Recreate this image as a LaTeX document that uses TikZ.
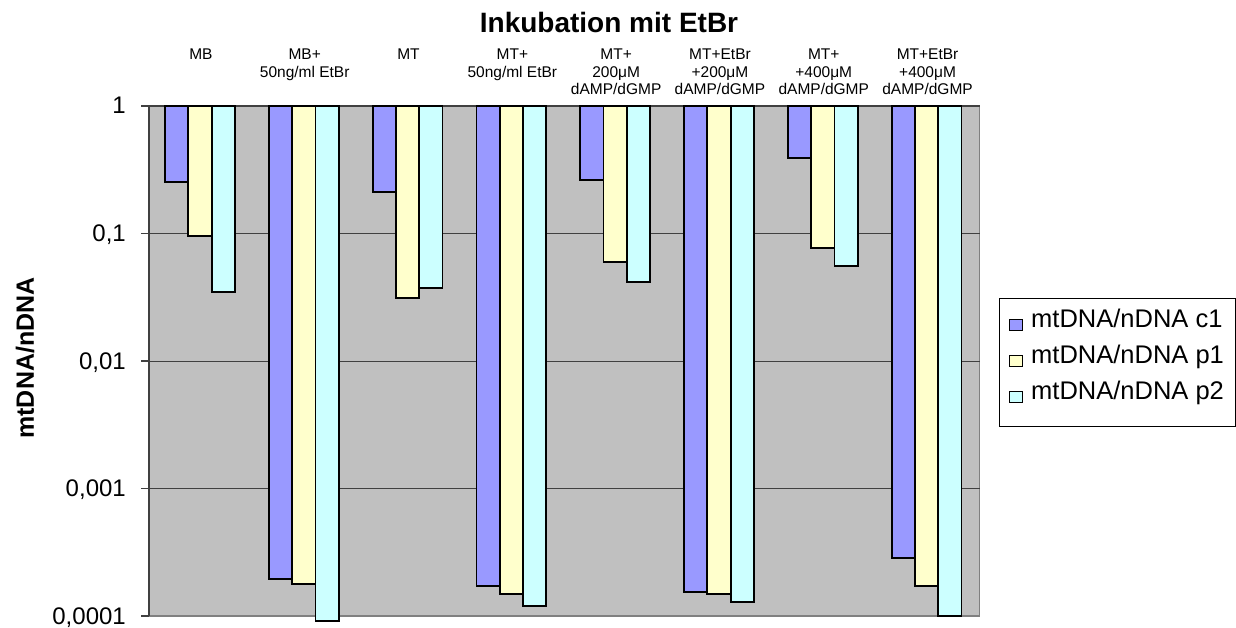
\documentclass[tikz,border=0pt]{standalone}
\usepackage{fontspec}
\setmainfont{Liberation Sans}
\usetikzlibrary{positioning}
\definecolor{plotgray}{HTML}{C0C0C0}
\definecolor{framegray}{HTML}{808080}
\definecolor{axisgray}{HTML}{404040}
\definecolor{cone}{HTML}{9999FF}
\definecolor{pone}{HTML}{FFFFCC}
\definecolor{ptwo}{HTML}{CCFFFF}
\tikzset{barbox/.style={draw=black,line width=1.8pt},
    gridline/.style={draw=axisgray,line width=1pt},
    axisline/.style={draw=axisgray,line width=1.8pt},
    catlabel/.style={font=\fontsize{15.5}{17.5}\selectfont,align=center,anchor=north,inner sep=0},
    ticklabel/.style={font=\fontsize{24}{24}\selectfont,anchor=base east,inner sep=0},
    legendkey/.style={draw=black,line width=1.5pt,minimum width=13pt,minimum height=11pt,inner sep=0},
    legendtext/.style={font=\fontsize{25.5}{25.5}\selectfont,anchor=base west,inner sep=0}
}
\newcommand{\barcluster}[4]
{
% args: (category index, bottom of c1, bottom of p1, bottom of p2)
    \pgfmathsetmacro\clusterleft{149+#1*103.81+16}

    \draw [barbox,fill=cone] (\clusterleft,106) rectangle (\clusterleft+23.3,#2);
    \draw [barbox,fill=pone] (\clusterleft+23.3,106) rectangle (\clusterleft+46.6,#3);
    \draw [barbox,fill=ptwo] (\clusterleft+46.6,106) rectangle (\clusterleft+69.9,#4);
}

\begin{document}
\begin{tikzpicture}[x=1pt,y=-1pt]

\useasboundingbox (0,0) rectangle (1236,628);

%% plot area
\fill [plotgray] (149,106) rectangle (979.5,616);
\draw [framegray,line width=1.8pt] (979.5,106) -- (979.5,616) -- (149,616);

\foreach \k in {1,2,3}
    \draw [gridline] (149,106+\k*127.5) -- (979.5,106+\k*127.5);

% value axis
\draw [axisline] (149,106) -- (149,616);
\draw [axisline] (149,106) -- (979.5,106);
\foreach \k in {0,...,4}
    \draw [axisline] (141,106+\k*127.5) -- (149,106+\k*127.5);

\foreach \k/\lbl in {0/1,1/{0,1},2/{0,01},3/{0,001},4/{0,0001}}
    \node (tick\k) [ticklabel] at (126,114+\k*127.5) {\lbl};

%% bars hanging from 1
\barcluster{0}{182}{236}{292}
\barcluster{1}{579}{583.7}{620.7}
\barcluster{2}{192}{297.7}{287.7}
\barcluster{3}{586}{593.7}{606}
\barcluster{4}{180}{262}{282}
\barcluster{5}{592}{593.7}{602}
\barcluster{6}{157.7}{247.7}{266}
\barcluster{7}{558}{585.7}{616.3}

%% category labels
\foreach \i/\txt in {0/MB,1/{MB+\\50ng/ml EtBr},2/MT,3/{MT+\\50ng/ml EtBr},
    4/{MT+\\200μM\\dAMP/dGMP},5/{MT+EtBr\\+200μM\\dAMP/dGMP},
    6/{MT+\\+400μM\\dAMP/dGMP},7/{MT+EtBr\\+400μM\\dAMP/dGMP}}
    \node (cat\i) [catlabel] at (149+\i*103.81+51.9,49) {\txt};

%% titles
\node (title) [font=\bfseries\fontsize{28}{28}\selectfont,anchor=base] at (609,33) {Inkubation mit EtBr};
\node (ytitle) [font=\bfseries\fontsize{25}{25}\selectfont,rotate=90] at (25,358) {mtDNA/nDNA};

%% legend
\draw [black,line width=1pt] (999,298) rectangle (1235,426);

\node (keyC) [legendkey,fill=cone] at (1016,325) {};
\node (keyP) [legendkey,fill=pone] at (1016,361) {};
\node (keyQ) [legendkey,fill=ptwo] at (1016,397) {};

\node (legC) [legendtext] at (1031,327.5) {mtDNA/nDNA c1};
\node (legP) [legendtext] at (1031,363.5) {mtDNA/nDNA p1};
\node (legQ) [legendtext] at (1031,399.5) {mtDNA/nDNA p2};

\end{tikzpicture}
\end{document}
